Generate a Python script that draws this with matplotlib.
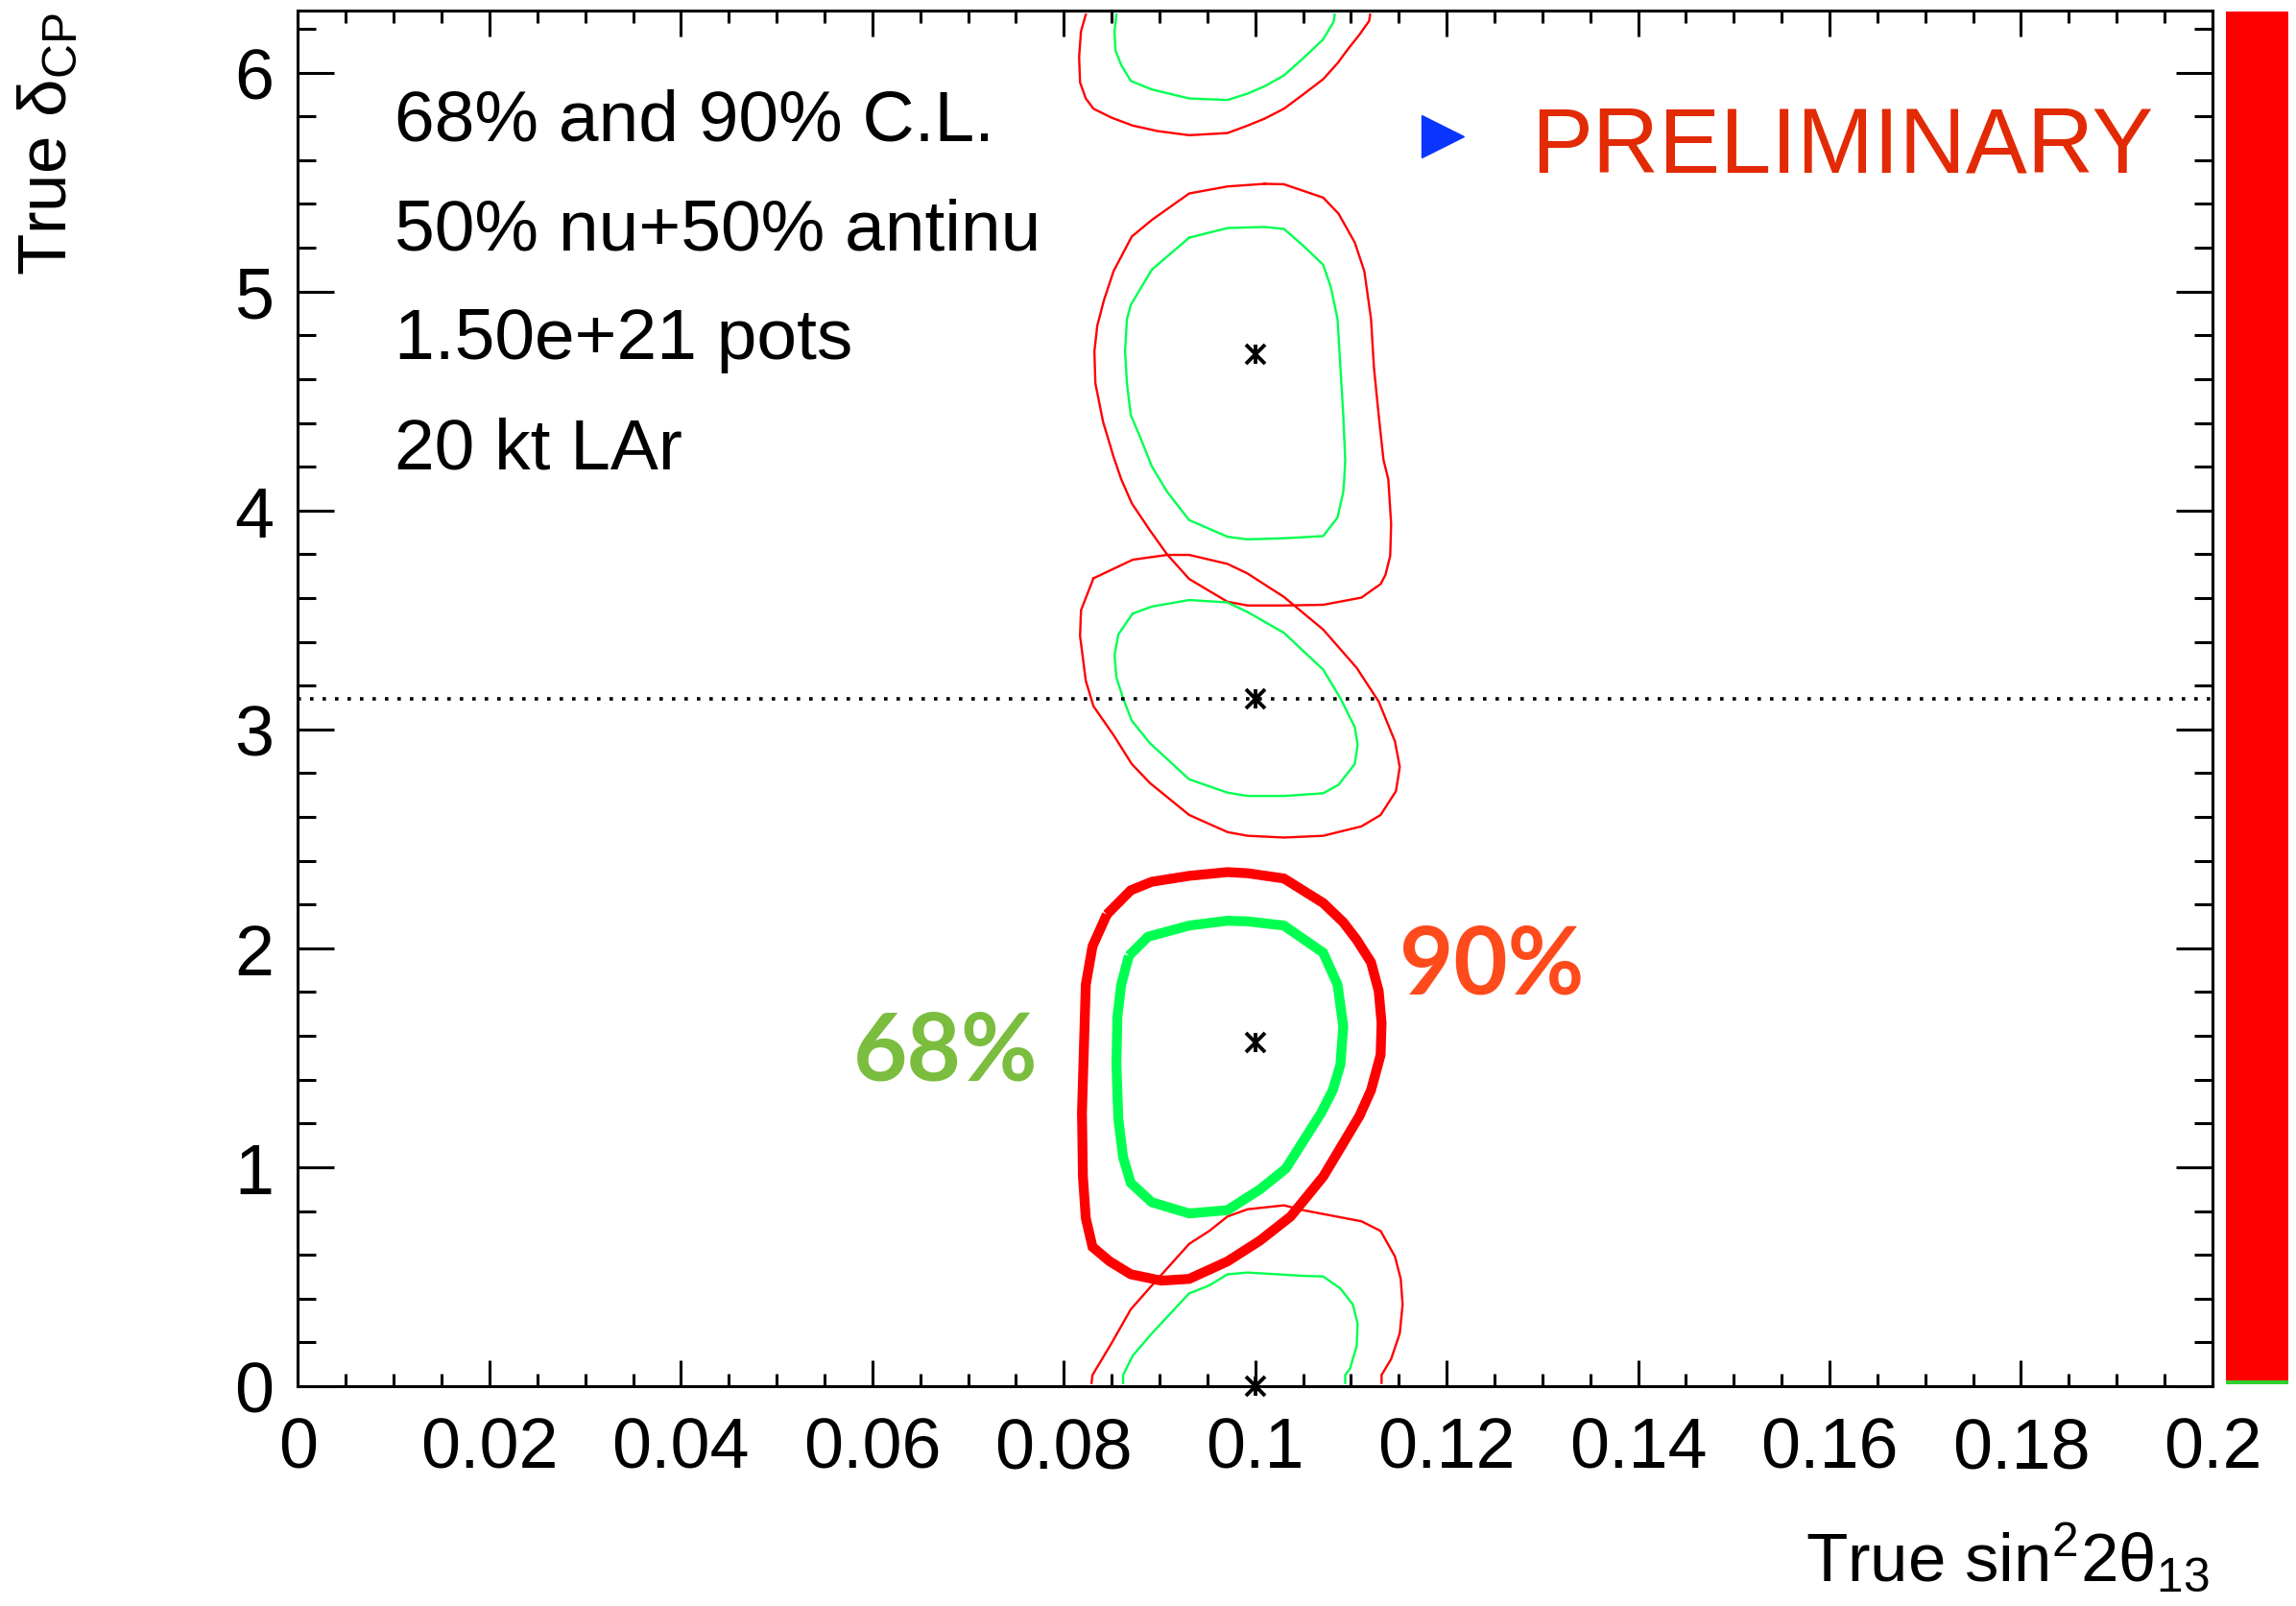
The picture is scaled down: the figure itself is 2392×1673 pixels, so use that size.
import numpy as np
import matplotlib
matplotlib.use('Agg')
import matplotlib.pyplot as plt
from matplotlib.ticker import MultipleLocator

plt.rcParams['font.family'] = ['Liberation Sans', 'DejaVu Sans']
plt.rcParams['mathtext.fontset'] = 'custom'
plt.rcParams['mathtext.rm'] = 'Liberation Sans'
plt.rcParams['mathtext.it'] = 'Liberation Sans:italic'
plt.rcParams['mathtext.bf'] = 'Liberation Sans:bold'

# ---------------- data ----------------
# 90% C.L. (red) and 68% C.L. (green) contours
red_top_x = [0.0823, 0.0818, 0.0816, 0.0817, 0.0823, 0.0831, 0.0850, 0.0872, 0.0898, 0.0931, 0.0971,
             0.0992, 0.1010, 0.1030, 0.1050, 0.1071, 0.1086, 0.1097, 0.1109, 0.1119, 0.1120]
red_top_y = [6.265, 6.189, 6.072, 5.955, 5.882, 5.835, 5.794, 5.758, 5.733, 5.714, 5.724,
             5.758, 5.790, 5.835, 5.900, 5.970, 6.043, 6.108, 6.174, 6.236, 6.265]

green_top_x = [0.0855, 0.0853, 0.0854, 0.0860, 0.0870, 0.0892, 0.0931, 0.0971, 0.0992, 0.1010,
               0.1030, 0.1050, 0.1071, 0.1082, 0.1083]
green_top_y = [6.265, 6.189, 6.101, 6.035, 5.962, 5.923, 5.882, 5.875, 5.904, 5.938,
               5.987, 6.065, 6.152, 6.233, 6.265]

red_3pi2_x = [0.1010, 0.1030, 0.1071, 0.1087, 0.1104, 0.1114, 0.1121, 0.1124, 0.1129, 0.1134, 0.1139,
              0.1142, 0.1141, 0.1136, 0.1131, 0.1111, 0.1071, 0.1030, 0.0992, 0.0971, 0.0931, 0.0908,
              0.0890, 0.0871, 0.0860, 0.0852, 0.0841, 0.0833, 0.0832, 0.0835, 0.0842, 0.0852, 0.0871,
              0.0892, 0.0931, 0.0971, 0.1010]
red_3pi2_y = [5.492, 5.490, 5.429, 5.356, 5.224, 5.093, 4.874, 4.654, 4.435, 4.231, 4.143,
              3.938, 3.792, 3.705, 3.664, 3.602, 3.569, 3.566, 3.566, 3.583, 3.687, 3.799,
              3.909, 4.033, 4.143, 4.245, 4.406, 4.581, 4.727, 4.844, 4.961, 5.093, 5.251,
              5.327, 5.448, 5.480, 5.492]

green_3pi2_x = [0.0931, 0.0971, 0.1010, 0.1030, 0.1050, 0.1071, 0.1079, 0.1086, 0.1089, 0.1092, 0.1094,
                0.1093, 0.1092, 0.1086, 0.1071, 0.1030, 0.0992, 0.0971, 0.0931, 0.0908, 0.0892, 0.0880,
                0.0870, 0.0866, 0.0864, 0.0866, 0.0870, 0.0892, 0.0931]
green_3pi2_y = [5.246, 5.290, 5.295, 5.286, 5.210, 5.122, 5.020, 4.874, 4.654, 4.435, 4.231,
                4.143, 4.085, 3.968, 3.883, 3.873, 3.868, 3.880, 3.956, 4.085, 4.201, 4.333,
                4.435, 4.581, 4.727, 4.874, 4.939, 5.100, 5.246]

red_pi_x = [0.0831, 0.0872, 0.0908, 0.0931, 0.0971, 0.0992, 0.1030, 0.1071, 0.1106, 0.1129, 0.1146,
            0.1151, 0.1147, 0.1131, 0.1111, 0.1071, 0.1030, 0.0992, 0.0971, 0.0931, 0.0890, 0.0871,
            0.0852, 0.0831, 0.0823, 0.0817, 0.0818, 0.0831]
red_pi_y = [3.690, 3.775, 3.797, 3.797, 3.756, 3.712, 3.605, 3.456, 3.281, 3.127, 2.945,
            2.828, 2.718, 2.609, 2.557, 2.514, 2.506, 2.514, 2.531, 2.609, 2.755, 2.842,
            2.974, 3.106, 3.222, 3.427, 3.544, 3.690]

green_pi_x = [0.0872, 0.0892, 0.0931, 0.0971, 0.0992, 0.1030, 0.1071, 0.1089, 0.1104, 0.1107, 0.1104,
              0.1087, 0.1071, 0.1030, 0.0992, 0.0971, 0.0931, 0.0890, 0.0871, 0.0862, 0.0855, 0.0853,
              0.0857, 0.0872]
green_pi_y = [3.529, 3.561, 3.591, 3.580, 3.536, 3.441, 3.273, 3.142, 3.010, 2.930, 2.842,
              2.747, 2.708, 2.696, 2.696, 2.711, 2.772, 2.937, 3.040, 3.142, 3.237, 3.339,
              3.434, 3.529]

red_pi2_x = [0.0845, 0.0870, 0.0892, 0.0931, 0.0971, 0.0992, 0.1030, 0.1071, 0.1092, 0.1106, 0.1121,
             0.1129, 0.1132, 0.1131, 0.1121, 0.1109, 0.1091, 0.1071, 0.1037, 0.1005, 0.0971, 0.0931,
             0.0902, 0.0870, 0.0848, 0.0830, 0.0823, 0.0820, 0.0819, 0.0821, 0.0823, 0.0830, 0.0845]
red_pi2_y = [2.155, 2.265, 2.304, 2.331, 2.348, 2.343, 2.319, 2.207, 2.119, 2.039, 1.936,
             1.805, 1.659, 1.513, 1.352, 1.235, 1.103, 0.957, 0.775, 0.665, 0.570, 0.490,
             0.482, 0.511, 0.570, 0.636, 0.767, 0.957, 1.249, 1.542, 1.834, 2.009, 2.155]

green_pi2_x = [0.0868, 0.0888, 0.0931, 0.0971, 0.0992, 0.1030, 0.1071, 0.1086, 0.1092, 0.1089, 0.1081,
               0.1069, 0.1032, 0.1005, 0.0971, 0.0931, 0.0892, 0.0870, 0.0862, 0.0857, 0.0855, 0.0856,
               0.0860, 0.0868]
green_pi2_y = [1.966, 2.053, 2.104, 2.126, 2.123, 2.104, 1.980, 1.834, 1.644, 1.469, 1.352,
               1.249, 0.994, 0.899, 0.804, 0.789, 0.840, 0.928, 1.045, 1.220, 1.469, 1.688,
               1.834, 1.966]

red_bot_x = [0.0829, 0.0830, 0.0850, 0.0870, 0.0892, 0.0931, 0.0952, 0.0971, 0.0992, 0.1030, 0.1050,
             0.1111, 0.1131, 0.1146, 0.1152, 0.1154, 0.1151, 0.1142, 0.1132, 0.1132]
red_bot_y = [0.015, 0.051, 0.197, 0.351, 0.460, 0.650, 0.709, 0.775, 0.808, 0.826, 0.804,
             0.753, 0.709, 0.592, 0.490, 0.373, 0.241, 0.124, 0.051, 0.015]

green_bot_x = [0.0862, 0.0862, 0.0872, 0.0892, 0.0931, 0.0952, 0.0971, 0.0992, 0.1050, 0.1071, 0.1089,
               0.1102, 0.1107, 0.1106, 0.1099, 0.1094, 0.1094]
green_bot_y = [0.015, 0.051, 0.139, 0.241, 0.424, 0.460, 0.511, 0.519, 0.504, 0.501, 0.446,
               0.373, 0.285, 0.183, 0.080, 0.051, 0.015]

# true points
true_x = [0.1, 0.1, 0.1, 0.1]
true_y = [0.0, np.pi / 2, np.pi, 3 * np.pi / 2]

# reference line at delta = pi
ref_x = [0.0, 0.2]
ref_y = [np.pi, np.pi]

xtick_vals = [0, 0.02, 0.04, 0.06, 0.08, 0.1, 0.12, 0.14, 0.16, 0.18, 0.2]
xtick_labels = ['0', '0.02', '0.04', '0.06', '0.08', '0.1', '0.12', '0.14', '0.16', '0.18', '0.2']
ytick_vals = [0, 1, 2, 3, 4, 5, 6]
ytick_labels = ['0', '1', '2', '3', '4', '5', '6']

info_lines = ['68% and 90% C.L.', '50% nu+50% antinu', '1.50e+21 pots', '20 kt LAr']
info_y = [5.695, 5.195, 4.695, 4.195]

# ---------------- figure ----------------
RED = '#ff0000'
GREEN = '#00ff50'

fig = plt.figure(figsize=(23.92, 16.74), dpi=100)
ax = fig.add_axes([0.1298, 0.1368, 0.8338, 0.8560])
ax.set_xlim(0, 0.2)
ax.set_ylim(0, 2 * np.pi)

thin = 1.7
thick = 7.4
for xs, ys in [(red_top_x, red_top_y), (red_3pi2_x, red_3pi2_y), (red_pi_x, red_pi_y), (red_bot_x, red_bot_y)]:
    ax.plot(xs, ys, color=RED, lw=thin, solid_joinstyle='miter')
for xs, ys in [(green_top_x, green_top_y), (green_3pi2_x, green_3pi2_y), (green_pi_x, green_pi_y),
               (green_bot_x, green_bot_y)]:
    ax.plot(xs, ys, color=GREEN, lw=thin, solid_joinstyle='miter')
ax.plot(red_pi2_x, red_pi2_y, color=RED, lw=thick, solid_joinstyle='miter', solid_capstyle='butt')
ax.plot(green_pi2_x, green_pi2_y, color=GREEN, lw=thick, solid_joinstyle='miter', solid_capstyle='butt')

ax.plot(ref_x, ref_y, color='black', lw=2.6, ls=(0, (1, 2.6)))

for mk in ['x', '|']:
    ax.plot(true_x, true_y, ls='none', marker=mk, ms=15, mew=2.8, color='black', clip_on=False, zorder=5)

# ticks / axes
ax.set_xticks(xtick_vals)
ax.set_xticklabels(xtick_labels)
ax.set_yticks(ytick_vals)
ax.set_yticklabels(ytick_labels)
ax.xaxis.set_minor_locator(MultipleLocator(0.005))
ax.yaxis.set_minor_locator(MultipleLocator(0.2))
ax.tick_params(which='both', direction='in', top=True, right=True, width=2.2, labelsize=53)
ax.tick_params(axis='x', which='major', length=19.5, pad=22)
ax.tick_params(axis='x', which='minor', length=9.5)
ax.tick_params(axis='y', which='major', length=27.5, pad=18)
ax.tick_params(axis='y', which='minor', length=13.5)
for sp in ax.spines.values():
    sp.set_linewidth(2.2)

ax.text(-0.1467, 0.9993, 'True δ$_{\\mathrm{CP}}$', transform=ax.transAxes, rotation=90,
        ha='left', va='top', fontsize=51)
ax.text(0.9985, -0.0985, 'True sin$^{\\mathrm{2}}$2θ$_{\\mathrm{13}}$', transform=ax.transAxes,
        ha='right', va='top', fontsize=51)

for line, yy in zip(info_lines, info_y):
    ax.text(0.0101, yy, line, fontsize=54, ha='left', va='baseline')

ax.text(0.0677, 1.40, '68%', fontsize=70, color='#7bbd3f', family=['Lato', 'DejaVu Sans'],
        fontweight='bold', ha='center', va='baseline')
ax.text(0.1247, 1.797, '90%', fontsize=70, color='#ff4a1c', family=['Lato', 'DejaVu Sans'],
        fontweight='bold', ha='center', va='baseline')

ax.plot([0.1196], [5.708], ls='none', marker='>', ms=32, color='#0a35ff', mec='#0a35ff')
ax.text(0.1288, 5.550, 'PRELIMINARY', fontsize=69, color='#e22a05', ha='left', va='baseline')

# palette strip on the right
cax = fig.add_axes([0.9695, 0.1380, 0.0272, 0.8545])
cax.set_xlim(0, 1)
cax.set_ylim(0, 1)
cax.axhspan(0.003, 1, color=RED, lw=0)
cax.axhspan(0, 0.003, color='#30d030', lw=0)
cax.axis('off')

fig.savefig('out.png', dpi=100)
